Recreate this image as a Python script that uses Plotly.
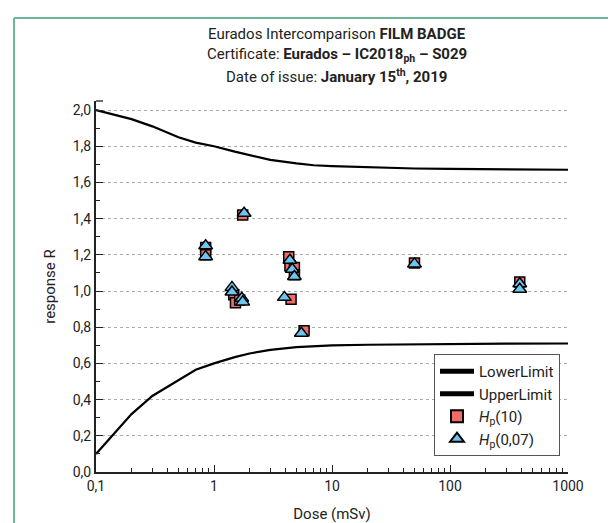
import plotly.graph_objects as go

# ---- data ----
limit_dose = [0.1, 0.2, 0.3, 0.5, 0.7, 1, 1.5, 2, 3, 5, 7, 10, 20, 50, 100, 300, 1000]
lower_limit = [2.00, 1.95, 1.91, 1.85, 1.82, 1.80, 1.77, 1.75, 1.725, 1.705, 1.695, 1.69, 1.683, 1.677, 1.675, 1.672, 1.67]
upper_limit = [0.10, 0.32, 0.42, 0.51, 0.565, 0.60, 0.635, 0.655, 0.675, 0.69, 0.695, 0.70, 0.703, 0.706, 0.707, 0.709, 0.71]

hp10_dose = [0.85, 0.85, 1.47, 1.52, 1.65, 1.75, 4.3, 4.4, 4.8, 4.8, 4.5, 5.8, 50, 390]
hp10_resp = [1.24, 1.20, 0.98, 0.935, 0.95, 1.42, 1.19, 1.14, 1.13, 1.09, 0.955, 0.78, 1.155, 1.05]

hp007_dose = [0.85, 0.85, 1.42, 1.42, 1.72, 1.75, 1.8, 4.4, 4.6, 4.8, 3.95, 5.5, 50, 390, 390]
hp007_resp = [1.25, 1.19, 1.02, 0.995, 0.96, 0.94, 1.43, 1.17, 1.12, 1.08, 0.965, 0.767, 1.15, 1.04, 1.01]

x_tickvals = [0.1, 1, 10, 100, 1000]
x_ticktext = ["0,1", "1", "10", "100", "1000"]
y_tickvals = [0.0, 0.2, 0.4, 0.6, 0.8, 1.0, 1.2, 1.4, 1.6, 1.8, 2.0]
y_ticktext = ["0,0", "0,2", "0,4", "0,6", "0,8", "1,0", "1,2", "1,4", "1,6", "1,8", "2,0"]

title_lines = [
    "Eurados Intercomparison <b>FILM BADGE</b>",
    "Certificate: <b>Eurados – IC2018<sub>ph</sub> – S029</b>",
    "Date of issue: <b>January 15<sup>th</sup>, 2019</b>",
]

FONT = "Roboto"
L, R, T, B = 88, 56, 93, 59
W, H = 616, 523
PW, PH = W - L - R, H - T - B

fig = go.Figure()
fig.add_trace(go.Scatter(x=limit_dose, y=lower_limit, mode="lines", name="LowerLimit",
                         line=dict(color="black", width=2.2)))
fig.add_trace(go.Scatter(x=limit_dose, y=upper_limit, mode="lines", name="UpperLimit",
                         line=dict(color="black", width=2.2)))
fig.add_trace(go.Scatter(x=hp10_dose, y=hp10_resp, mode="markers", name="<i>H</i><sub>p</sub>(10)",
                         marker=dict(symbol="square", size=10, color="#F26B6B",
                                     line=dict(color="black", width=1.5))))
fig.add_trace(go.Scatter(x=hp007_dose, y=hp007_resp, mode="markers", name="<i>H</i><sub>p</sub>(0,07)",
                         marker=dict(symbol="triangle-up", size=12, color="#6EC5F0",
                                     line=dict(color="black", width=1.5))))

minor_x = [m * 10 ** e for e in range(-1, 3) for m in range(2, 10)]

fig.update_xaxes(type="log", range=[-1, 3], tickvals=x_tickvals, ticktext=x_ticktext,
                 ticks="inside", ticklen=7, tickwidth=1.3, tickcolor="#222",
                 showline=True, linecolor="#222", linewidth=2, showgrid=False, zeroline=False,
                 minor=dict(tickvals=minor_x, ticks="inside", ticklen=4, tickwidth=1.2, tickcolor="#222", showgrid=False),
                 tickfont=dict(family=FONT, size=14, color="#222"),
                 title=dict(text="Dose (mSv)", font=dict(family=FONT, size=15, color="#222"), standoff=16))
fig.update_yaxes(range=[0, 2.05], tickvals=y_tickvals, ticktext=y_ticktext,
                 ticks="inside", ticklen=7, tickwidth=1.3, tickcolor="#222",
                 showline=True, linecolor="#222", linewidth=2, zeroline=False,
                 showgrid=True, gridcolor="#aaaaaa", gridwidth=1, griddash="3px,3px",
                 minor=dict(dtick=0.1, tick0=0, ticks="inside", ticklen=4, tickwidth=1.2, tickcolor="#222", showgrid=False),
                 tickfont=dict(family=FONT, size=14, color="#222"),
                 title=dict(text="response R", font=dict(family=FONT, size=15, color="#222"), standoff=13))

title_y_px = [26, 47, 68]
annotations = []
for t, ypx in zip(title_lines, title_y_px):
    annotations.append(dict(text=t, xref="paper", yref="paper", x=0.51, y=1 + (T - ypx) / PH,
                            xanchor="center", yanchor="middle", showarrow=False,
                            font=dict(family=FONT, size=15, color="#222")))

fx0 = (6 - L) / PW
fy0 = 1 + (T - 10) / PH
y0px = T + PH  # pixel row of R = 0
fig.update_layout(
    width=W, height=H,
    margin=dict(l=L, r=R, t=T, b=B),
    paper_bgcolor="white", plot_bgcolor="white",
    annotations=annotations,
    showlegend=True,
    legend=dict(x=(552 - L) / PW, y=(y0px - 346) / PH, xanchor="right", yanchor="top",
                bgcolor="white", bordercolor="#555", borderwidth=1,
                font=dict(family=FONT, size=15, color="#222"),
                itemwidth=34, itemsizing="constant", tracegroupgap=0),
    shapes=[
        dict(type="line", xref="paper", yref="paper", x0=fx0, x1=1.2, y0=fy0, y1=fy0,
             line=dict(color="#6BB896", width=2)),
        dict(type="line", xref="paper", yref="paper", x0=fx0, x1=fx0, y0=fy0, y1=-0.3,
             line=dict(color="#6BB896", width=2)),
        dict(type="line", xref="paper", yref="paper", x0=0, x1=7 / PW, y0=1, y1=1,
             line=dict(color="#222", width=1.3)),
    ],
)

fig.write_html("out.html")
